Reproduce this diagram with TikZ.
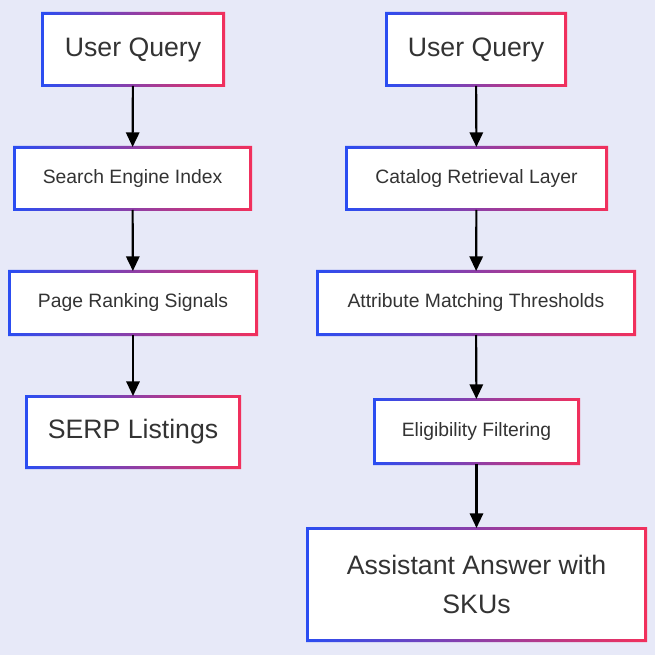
\documentclass[tikz,border=0pt]{standalone}
\usepackage{fontspec}
\setmainfont{Liberation Sans}
\usetikzlibrary{arrows.meta}
\definecolor{bgcol}{HTML}{E7E9F8}
\definecolor{leftcol}{HTML}{2A4DF2}
\definecolor{rightcol}{HTML}{F2305C}
\definecolor{txtcol}{HTML}{333333}
\begin{document}
\begin{tikzpicture}[x=0.75pt,y=-0.75pt,
  box/.style={fill=white, inner sep=0pt, outer sep=1.5pt, text=txtcol, align=center},
  big/.style={font=\fontsize{20}{29}\selectfont},
  small/.style={font=\fontsize{14.5}{17}\selectfont},
  flow/.style={-{Triangle[length=11pt,width=10pt]}, line width=1.6pt, black}]

% background
\fill[bgcol] (0,0) rectangle (655,655);

% boxes with a blue-to-red frame: name/center x/center y/width/height/style/text
\foreach \n/\cx/\cy/\w/\h/\s/\t in {
  lq/133/49.5/184/75/big/{User Query},
  ls/132.5/178.5/239/65/small/{Search Engine Index},
  lp/133/303/250/66/small/{Page Ranking Signals},
  ll/133/432/216/74/big/{SERP Listings},
  rq/476/49.5/182/75/big/{User Query},
  rc/476.5/178.5/263/65/small/{Catalog Retrieval Layer},
  ra/476/303/320/66/small/{Attribute Matching Thresholds},
  re/476.5/431.5/207/67/small/{Eligibility Filtering},
  rs/476.5/584.5/341/115/big/{Assistant Answer with\\SKUs}} {
  \shade[left color=leftcol, right color=rightcol, even odd rule]
    (\cx-\w/2,\cy-\h/2) rectangle (\cx+\w/2,\cy+\h/2)
    (\cx-\w/2+3,\cy-\h/2+3) rectangle (\cx+\w/2-3,\cy+\h/2-3);
  \node[box, \s, minimum width=(\w-6)*0.75pt, minimum height=(\h-6)*0.75pt] (\n) at (\cx,\cy) {\t};
}

% connectors
\draw[flow] (lq) -- (ls);
\draw[flow] (ls) -- (lp);
\draw[flow] (lp) -- (ll);
\draw[flow] (rq) -- (rc);
\draw[flow] (rc) -- (ra);
\draw[flow] (ra) -- (re);
\draw[flow] (re) -- (rs);
\end{tikzpicture}
\end{document}
